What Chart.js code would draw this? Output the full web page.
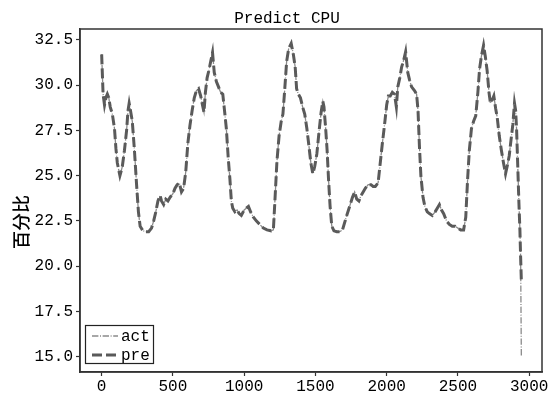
<!DOCTYPE html>
<html>
<head>
<meta charset="utf-8">
<script src="https://cdn.jsdelivr.net/npm/chart.js@4.4.0/dist/chart.umd.min.js"></script>
<style>
  body { margin: 0; background: #fff; }
  canvas { display: block; }
</style>
</head>
<body>
<canvas id="c" width="560" height="396"></canvas>
<script>
// campioni (x = indice del campione)
var xs = [0, 5, 10, 20, 30, 40, 50, 60, 75, 90, 100, 110, 120, 128, 135, 145, 160, 175, 185, 193,
  200, 215, 230, 245, 258, 270, 290, 310, 330, 350, 365, 380, 395, 410, 420, 435, 450, 465, 480, 500,
  515, 530, 545, 560, 575, 590, 605, 620, 635, 650, 665, 680, 695, 710, 718, 728, 740, 755, 765, 778,
  790, 805, 820, 835, 850, 862, 875, 888, 900, 910, 920, 935, 950, 965, 980, 1000, 1015, 1030, 1045, 1065,
  1085, 1110, 1135, 1160, 1190, 1205, 1215, 1230, 1245, 1260, 1272, 1285, 1298, 1312, 1330, 1345, 1358, 1368, 1380, 1395,
  1410, 1425, 1440, 1455, 1468, 1482, 1495, 1510, 1525, 1540, 1552, 1560, 1572, 1582, 1592, 1603, 1615, 1630, 1650, 1670,
  1690, 1705, 1720, 1740, 1760, 1775, 1790, 1805, 1820, 1835, 1850, 1870, 1890, 1905, 1920, 1940, 1955, 1970, 1985, 2000,
  2012, 2025, 2040, 2055, 2068, 2078, 2092, 2105, 2120, 2133, 2148, 2160, 2175, 2195, 2210, 2220, 2230, 2240, 2255, 2268,
  2285, 2300, 2320, 2340, 2355, 2370, 2385, 2400, 2420, 2440, 2460, 2480, 2500, 2520, 2540, 2555, 2568, 2580, 2595, 2610,
  2625, 2640, 2652, 2665, 2680, 2692, 2705, 2718, 2728, 2742, 2752, 2765, 2776, 2790, 2805, 2820, 2834, 2848, 2860, 2873,
  2885, 2897, 2905, 2912, 2920, 2928, 2935, 2940, 2945];

var actValues = [31.7, 30.6, 29.5, 28.9, 29.3, 29.5, 29.3, 28.8, 28.4, 27.6, 26.5, 25.7, 25.3, 25.0, 25.2, 25.5, 26.4, 27.5, 28.6, 29.0,
  28.7, 28.0, 26.4, 24.5, 23.0, 22.2, 21.95, 21.9, 21.9, 22.1, 22.5, 23.0, 23.6, 23.9, 23.6, 23.4, 23.7, 23.6, 23.8, 24.0,
  24.3, 24.5, 24.6, 24.1, 24.3, 25.2, 26.8, 27.8, 28.6, 29.3, 29.7, 29.8, 29.4, 28.8, 28.5, 29.6, 30.4, 30.9, 31.3, 31.8,
  30.7, 30.2, 29.9, 29.6, 29.5, 28.6, 27.6, 26.0, 24.8, 23.6, 23.2, 23.0, 23.1, 22.9, 22.8, 23.1, 23.2, 23.3, 23.0, 22.7,
  22.5, 22.3, 22.1, 22.0, 21.95, 22.0, 23.5, 25.8, 27.2, 28.0, 28.4, 29.8, 31.3, 32.0, 32.3, 31.7, 31.0, 29.8, 29.5, 29.3,
  28.8, 28.4, 27.6, 26.6, 25.7, 25.1, 25.5, 26.2, 27.4, 28.5, 29.1, 28.8, 27.6, 26.4, 24.8, 23.3, 22.2, 21.95, 21.9, 21.9,
  22.0, 22.4, 22.8, 23.3, 23.8, 24.1, 23.7, 23.6, 23.9, 24.1, 24.3, 24.5, 24.5, 24.4, 24.4, 24.6, 25.7, 26.8, 27.8, 28.9,
  29.4, 29.4, 29.6, 29.5, 28.8, 29.9, 30.4, 31.0, 31.4, 31.85, 30.7, 30.3, 29.9, 29.7, 29.5, 28.6, 26.6, 25.0, 23.8, 23.3,
  23.0, 22.9, 22.8, 23.0, 23.2, 23.4, 23.1, 22.9, 22.5, 22.3, 22.2, 22.2, 22.1, 22.0, 22.0, 22.7, 24.8, 26.4, 27.6, 28.0,
  28.3, 29.6, 30.9, 31.6, 32.2, 31.6, 30.8, 29.6, 29.0, 29.2, 29.4, 28.7, 28.2, 27.2, 26.4, 25.7, 25.1, 25.6, 26.1, 27.0,
  27.8, 29.0, 28.6, 27.5, 25.5, 23.5, 22.0, 20.5, 15.05];

var preValues = [31.7, 30.6, 29.5, 28.9, 29.3, 29.5, 29.3, 28.8, 28.4, 27.6, 26.5, 25.7, 25.3, 25.0, 25.2, 25.5, 26.4, 27.5, 28.6, 29.0,
  28.7, 28.0, 26.4, 24.5, 23.0, 22.2, 21.95, 21.9, 21.9, 22.1, 22.5, 23.0, 23.6, 23.9, 23.6, 23.4, 23.7, 23.6, 23.8, 24.0,
  24.3, 24.5, 24.6, 24.1, 24.3, 25.2, 26.8, 27.8, 28.6, 29.3, 29.7, 29.8, 29.4, 28.8, 28.5, 29.6, 30.4, 30.9, 31.3, 31.8,
  30.7, 30.2, 29.9, 29.6, 29.5, 28.6, 27.6, 26.0, 24.8, 23.6, 23.2, 23.0, 23.1, 22.9, 22.8, 23.1, 23.2, 23.3, 23.0, 22.7,
  22.5, 22.3, 22.1, 22.0, 21.95, 22.0, 23.5, 25.8, 27.2, 28.0, 28.4, 29.8, 31.3, 32.0, 32.3, 31.7, 31.0, 29.8, 29.5, 29.3,
  28.8, 28.4, 27.6, 26.6, 25.7, 25.1, 25.5, 26.2, 27.4, 28.5, 29.1, 28.8, 27.6, 26.4, 24.8, 23.3, 22.2, 21.95, 21.9, 21.9,
  22.0, 22.4, 22.8, 23.3, 23.8, 24.1, 23.7, 23.6, 23.9, 24.1, 24.3, 24.5, 24.5, 24.4, 24.4, 24.6, 25.7, 26.8, 27.8, 28.9,
  29.4, 29.4, 29.6, 29.5, 28.8, 29.9, 30.4, 31.0, 31.4, 31.85, 30.7, 30.3, 29.9, 29.7, 29.5, 28.6, 26.6, 25.0, 23.8, 23.3,
  23.0, 22.9, 22.8, 23.0, 23.2, 23.4, 23.1, 22.9, 22.5, 22.3, 22.2, 22.2, 22.1, 22.0, 22.0, 22.7, 24.8, 26.4, 27.6, 28.0,
  28.3, 29.6, 30.9, 31.6, 32.2, 31.6, 30.8, 29.6, 29.0, 29.2, 29.4, 28.7, 28.2, 27.2, 26.4, 25.7, 25.1, 25.6, 26.1, 27.0,
  27.8, 29.0, 28.6, 27.5, 25.5, 23.5, 22.0, 20.5, 19.2];

var xTicks = [0, 500, 1000, 1500, 2000, 2500, 3000];
var yTicks = [15.0, 17.5, 20.0, 22.5, 25.0, 27.5, 30.0, 32.5];

var titolo = 'Predict CPU';
var yTitolo = '百分比';

var monoFont = "'Liberation Mono', 'DejaVu Sans Mono', monospace";

function punti(valori) {
  var arr = [];
  for (var i = 0; i < xs.length; i++) {
    arr.push({ x: xs[i], y: valori[i] });
  }
  return arr;
}

// titolo, cornice, etichetta y e legenda disegnati a mano
var decorazioni = {
  id: 'decorazioni',
  afterDraw: function(chart) {
    var ctx = chart.ctx;
    var a = chart.chartArea;
    ctx.save();

    ctx.strokeStyle = '#333';
    ctx.lineWidth = 1.5;
    ctx.strokeRect(a.left, a.top, a.right - a.left, a.bottom - a.top);

    ctx.fillStyle = '#000';
    ctx.font = '16px ' + monoFont;
    ctx.textAlign = 'center';
    ctx.textBaseline = 'alphabetic';
    ctx.fillText(titolo, 287, 23);

    ctx.save();
    ctx.translate(21, 222);
    ctx.rotate(-Math.PI / 2);
    ctx.font = "500 18px 'Noto Sans CJK SC'";
    ctx.textBaseline = 'middle';
    ctx.fillText(yTitolo, 0, 0);
    ctx.restore();

    // legenda
    ctx.fillStyle = '#fff';
    ctx.fillRect(85.5, 325.5, 68, 38);
    ctx.strokeStyle = '#222';
    ctx.lineWidth = 1.2;
    ctx.strokeRect(85.5, 325.5, 68, 38);

    var ds = chart.data.datasets;
    var righe = [336, 355];
    for (var i = 0; i < ds.length; i++) {
      ctx.beginPath();
      ctx.setLineDash(ds[i].borderDash);
      ctx.strokeStyle = ds[i].borderColor;
      ctx.lineWidth = ds[i].borderWidth;
      ctx.moveTo(92, righe[i]);
      ctx.lineTo(118, righe[i]);
      ctx.stroke();
      ctx.setLineDash([]);
      ctx.fillStyle = '#000';
      ctx.font = '16px ' + monoFont;
      ctx.textAlign = 'left';
      ctx.textBaseline = 'middle';
      ctx.fillText(ds[i].label, 121, righe[i] + 1);
    }
    ctx.restore();
  }
};

var chart = new Chart(document.getElementById('c'), {
  type: 'line',
  data: {
    datasets: [{
      label: 'act',
      data: punti(actValues),
      borderColor: '#8a8a8a',
      borderWidth: 1.3,
      borderDash: [6.4, 1.6, 1, 1.6],
      pointRadius: 0,
      fill: false,
      tension: 0,
      order: 1
    }, {
      label: 'pre',
      data: punti(preValues),
      borderColor: '#5a5a5a',
      borderWidth: 3,
      borderDash: [10, 4],
      pointRadius: 0,
      fill: false,
      tension: 0,
      order: 0
    }]
  },
  options: {
    responsive: false,
    animation: false,
    layout: { padding: { top: 29, right: 18, left: 0, bottom: 0 } },
    plugins: {
      legend: { display: false },
      title: { display: false },
      tooltip: { enabled: false }
    },
    scales: {
      x: {
        type: 'linear',
        min: -152,
        max: 3090,
        afterBuildTicks: function(s) {
          s.ticks = xTicks.map(function(v) { return { value: v }; });
        },
        afterFit: function(s) { s.height = 24; },
        ticks: {
          color: '#000',
          font: { family: monoFont, size: 16 },
          padding: 1,
          maxRotation: 0,
          autoSkip: false,
          callback: function(v) { return String(v); }
        },
        grid: { drawOnChartArea: false, drawTicks: true, tickLength: 4, color: '#333', tickWidth: 1.2 },
        border: { color: '#333', width: 1.5 }
      },
      y: {
        min: 14.15,
        max: 33.1,
        afterBuildTicks: function(s) {
          s.ticks = yTicks.map(function(v) { return { value: v }; });
        },
        afterFit: function(s) { s.width = 80; },
        ticks: {
          color: '#000',
          font: { family: monoFont, size: 16 },
          padding: 3,
          autoSkip: false,
          callback: function(v) { return Number(v).toFixed(1); }
        },
        grid: { drawOnChartArea: false, drawTicks: true, tickLength: 4, color: '#333', tickWidth: 1.2 },
        border: { color: '#333', width: 1.5 }
      }
    }
  },
  plugins: [decorazioni]
});
</script>
</body>
</html>
